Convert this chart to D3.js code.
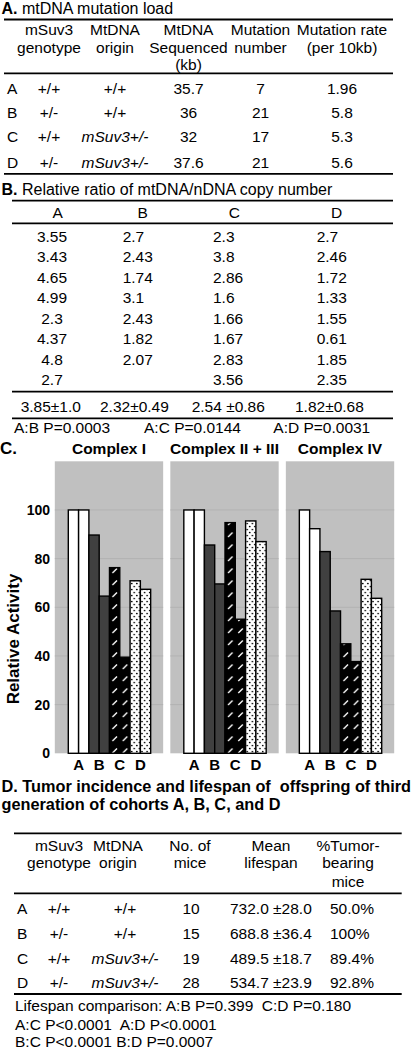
<!DOCTYPE html>
<html><head><meta charset="utf-8">
<script src="https://cdn.jsdelivr.net/npm/d3@7"></script>
<style>
body{margin:0;background:#fff;}
text{font-family:"Liberation Sans",Arial,Helvetica,sans-serif;fill:#000;white-space:pre;}
</style>
</head><body>
<svg id="fig" width="414" height="1050"></svg>
<script>
// ---------- DATA ----------
const cohorts = ["A", "B", "C", "D"];

// Panel A: mtDNA mutation load
const headerA = [["mSuv3", "genotype"], ["MtDNA", "origin"], ["MtDNA", "Sequenced", "(kb)"], ["Mutation", "number"], ["Mutation rate", "(per 10kb)"]];
const genotypeA = ["+/+", "+/-", "+/+", "+/-"];
const originA = ["+/+", "+/+", "mSuv3+/-", "mSuv3+/-"];
const sequencedKb = ["35.7", "36", "32", "37.6"];
const mutationNumber = ["7", "21", "17", "21"];
const mutationRate = ["1.96", "5.8", "5.3", "5.6"];

// Panel B: relative ratio of mtDNA/nDNA copy number
const ratioA = [3.55, 3.43, 4.65, 4.99, 2.3, 4.37, 4.8, 2.7];
const ratioB = [2.7, 2.43, 1.74, 3.1, 2.43, 1.82, 2.07];
const ratioC = [2.3, 3.8, 2.86, 1.6, 1.66, 1.67, 2.83, 3.56];
const ratioD = [2.7, 2.46, 1.72, 1.33, 1.55, 0.61, 1.85, 2.35];
const ratioMean = ["3.85", "2.32", "2.54 ", "1.82"];
const ratioSD = ["1.0", "0.49", "0.86", "0.68"];
const ratioP = ["A:B P=0.0003", "A:C P=0.0144", "A:D P=0.0031"];

// Panel C: relative activity (two bars per cohort)
const complexes = ["Complex I", "Complex II + III", "Complex IV"];
const activityI = [100, 100, 89.7, 64.6, 76.3, 39.5, 70.9, 67.4];
const activityIIandIII = [100, 100, 85.6, 69.6, 94.8, 55.1, 95.5, 87];
const activityIV = [100, 92.3, 82.9, 58.5, 45, 37.7, 71.5, 63.7];
const yTicks = [0, 20, 40, 60, 80, 100];

// Panel D: tumor incidence and lifespan
const headerD = [["mSuv3", "genotype"], ["MtDNA", "origin"], ["No. of", "mice"], ["Mean", "lifespan"], ["%Tumor-", "bearing", "mice"]];
const genotypeD = ["+/+", "+/-", "+/+", "+/-"];
const originD = ["+/+", "+/+", "mSuv3+/-", "mSuv3+/-"];
const miceCount = ["10", "15", "19", "28"];
const lifespanMean = ["732.0", "688.8", "489.5", "534.7"];
const lifespanSE = ["28.0", "36.4", "18.7", "23.9"];
const tumorPct = ["50.0%", "100%", "89.4%", "92.8%"];
const footnotesD = ["Lifespan comparison: A:B P=0.399  C:D P=0.180", "A:C P<0.0001  A:D P<0.0001", "B:C P<0.0001 B:D P=0.0007"];

// ---------- DRAW ----------
const svg = d3.select("#fig");
const FS = 15.5;

function txt(g, x, y, s, o = {}) {
  const t = g.append("text").attr("x", x).attr("y", y).text(s)
    .attr("font-size", o.size || FS)
    .attr("text-anchor", o.anchor || "start");
  if (o.bold) t.attr("font-weight", "bold");
  if (o.italic) t.attr("font-style", "italic");
  return t;
}
function rule(g, x1, x2, y, w = 1.8) {
  g.append("line").attr("x1", x1).attr("x2", x2).attr("y1", y).attr("y2", y)
    .attr("stroke", "#000").attr("stroke-width", w);
}
function title(g, x, y, lab, rest, size) {
  const t = g.append("text").attr("x", x).attr("y", y).attr("font-size", size);
  t.append("tspan").attr("font-weight", "bold").text(lab);
  t.append("tspan").text(rest);
}

// ===== Panel A =====
const gA = svg.append("g");
title(gA, 1.5, 13.5, "A.", " mtDNA mutation load", 16);
rule(gA, 4, 393, 19.5);
rule(gA, 4, 393, 73.3);
rule(gA, 4, 393, 173.8);
const colA = [49, 115, 188.5, 260.5, 342];
const hdrYA = [35, 53, 70];
headerA.forEach((lines, i) => lines.forEach((s, j) => txt(gA, colA[i], hdrYA[j], s, {anchor: "middle"})));
const rowYA = d3.scaleOrdinal().domain(cohorts).range([94, 117.5, 141.5, 167.5]);
cohorts.forEach((c, i) => {
  const yy = rowYA(c);
  txt(gA, 7, yy, c);
  txt(gA, colA[0], yy, genotypeA[i], {anchor: "middle"});
  txt(gA, colA[1], yy, originA[i], {anchor: "middle", italic: originA[i].startsWith("m")});
  txt(gA, colA[2], yy, sequencedKb[i], {anchor: "middle"});
  txt(gA, colA[3], yy, mutationNumber[i], {anchor: "middle"});
  txt(gA, colA[4], yy, mutationRate[i], {anchor: "middle"});
});

// ===== Panel B =====
const gB = svg.append("g");
title(gB, 1.5, 195, "B.", " Relative ratio of mtDNA/nDNA copy number", 16);
rule(gB, 12, 393, 200.7);
rule(gB, 12, 393, 223.3);
rule(gB, 12, 393, 391.7);
rule(gB, 12, 393, 418.3);
const hdrXB = [57.7, 142.7, 234.3, 336.7];
cohorts.forEach((c, i) => txt(gB, hdrXB[i], 218.3, c, {anchor: "middle"}));
const rowYB = d3.scaleLinear().domain([0, 1]).range([241.7, 262.2]);
const ratioCols = [ratioA, ratioB, ratioC, ratioD];
const colXB = [52, 122.7, 213, 316.7];
ratioCols.forEach((vals, ci) => vals.forEach((v, ri) => {
  txt(gB, colXB[ci], rowYB(ri), String(v), {anchor: ci === 0 ? "middle" : "start"});
}));
const meanXB = [20.7, 100, 191.7, 295];
ratioMean.forEach((m, i) => txt(gB, meanXB[i], 411.7, m + "\u00B1" + ratioSD[i]));
const pXB = [14, 144, 273.3];
ratioP.forEach((p, i) => txt(gB, pXB[i], 433.3, p));

// ===== Panel C =====
const gC = svg.append("g");
txt(gC, 0, 454, "C.", {bold: true, size: 17});
const defs = svg.append("defs");
const hatch = defs.append("pattern").attr("id", "hatch").attr("patternUnits", "userSpaceOnUse")
  .attr("width", 10.3).attr("height", 12);
hatch.append("rect").attr("width", 10.3).attr("height", 12).attr("fill", "#000");
hatch.append("line").attr("x1", 3).attr("y1", 9).attr("x2", 7.5).attr("y2", 4.5)
  .attr("stroke", "#fff").attr("stroke-width", 1.3);
const dots = defs.append("pattern").attr("id", "dots").attr("patternUnits", "userSpaceOnUse")
  .attr("width", 5.15).attr("height", 6);
dots.append("rect").attr("width", 5.15).attr("height", 6).attr("fill", "#fff");
dots.append("circle").attr("cx", 1.6).attr("cy", 1.5).attr("r", 0.85).attr("fill", "#000");
dots.append("circle").attr("cx", 4.1).attr("cy", 4.5).attr("r", 0.85).attr("fill", "#000");

const fills = {A: "#ffffff", B: "#404040", C: "url(#hatch)", D: "url(#dots)"};
const activity = [activityI, activityIIandIII, activityIV];

const y = d3.scaleLinear().domain([0, 120]).range([753.3, 461.3]);
const gx = d3.scaleBand().domain(complexes).range([68.3, 381.7]).paddingInner(0.287);
const bx = d3.scaleBand().domain(d3.range(8)).range([0, gx.bandwidth()]);
const cx = d3.scaleBand().domain(cohorts).range([0, gx.bandwidth()]);

complexes.forEach((cmp, k) => {
  const g = gC.append("g").attr("transform", `translate(${gx(cmp)},0)`);
  const x0 = -13.5, x1 = gx.bandwidth() + 12.5;
  g.append("rect").attr("x", x0).attr("y", y(120)).attr("width", x1 - x0)
    .attr("height", y(0) - y(120)).attr("fill", "#c0c0c0");
  g.selectAll(".grid").data(yTicks.filter(t => t > 0)).join("line")
    .attr("x1", x0).attr("x2", x1).attr("y1", d => y(d)).attr("y2", d => y(d))
    .attr("stroke", "#b2b2b2").attr("stroke-width", 1);
  g.selectAll(".bar").data(activity[k]).join("rect")
    .attr("x", (d, i) => bx(i)).attr("width", bx.bandwidth())
    .attr("y", d => y(d)).attr("height", d => y(0) - y(d))
    .attr("fill", (d, i) => fills[cohorts[Math.floor(i / 2)]])
    .attr("stroke", "#000").attr("stroke-width", 1.4);
  cohorts.forEach(c => txt(g, cx(c) + cx.bandwidth() / 2, 770, c, {anchor: "middle", bold: true, size: 15}));
  txt(gC, gx(cmp) + (x0 + x1) / 2, 454, cmp, {anchor: "middle", bold: true, size: 15.5});
});

const yAxis = d3.axisLeft(y).tickValues(yTicks).tickSize(0).tickPadding(0);
const ga = gC.append("g").attr("transform", "translate(50,0)").call(yAxis);
ga.select(".domain").remove();
ga.selectAll("text").attr("font-size", 14).attr("font-weight", "bold")
  .attr("font-family", '"Liberation Sans",Arial,sans-serif').attr("fill", "#000");
gC.append("text").attr("transform", "translate(19,639) rotate(-90)")
  .attr("text-anchor", "middle").attr("font-size", 17).attr("font-weight", "bold")
  .text("Relative Activity");

// ===== Panel D =====
const gD = svg.append("g");
txt(gD, 1.5, 791.7, "D. Tumor incidence and lifespan of  offspring of third", {bold: true, size: 16.3});
txt(gD, 1.5, 810, "generation of cohorts A, B, C, and D", {bold: true, size: 16.3});
rule(gD, 14, 401.7, 833.3);
rule(gD, 14, 401.7, 893.3);
rule(gD, 14, 401.7, 994);
const hdrXD = [59, 118, 190, 271, 348];
const hdrYD = [850.7, 868.3, 887.3];
headerD.forEach((lines, i) => lines.forEach((s, j) => txt(gD, hdrXD[i], hdrYD[j], s, {anchor: "middle"})));
const rowYD = d3.scaleOrdinal().domain(cohorts).range([914, 939, 963.5, 988.3]);
cohorts.forEach((c, i) => {
  const yy = rowYD(c);
  txt(gD, 17, yy, c);
  txt(gD, 59, yy, genotypeD[i], {anchor: "middle"});
  txt(gD, 125, yy, originD[i], {anchor: "middle", italic: originD[i].startsWith("m")});
  txt(gD, 191, yy, miceCount[i], {anchor: "middle"});
  txt(gD, 230, yy, lifespanMean[i] + " \u00B1" + lifespanSE[i]);
  txt(gD, 330, yy, tumorPct[i]);
});
const footY = [1011.2, 1030.2, 1046.5];
footnotesD.forEach((s, i) => txt(gD, 15, footY[i], s));
</script>
</body></html>
